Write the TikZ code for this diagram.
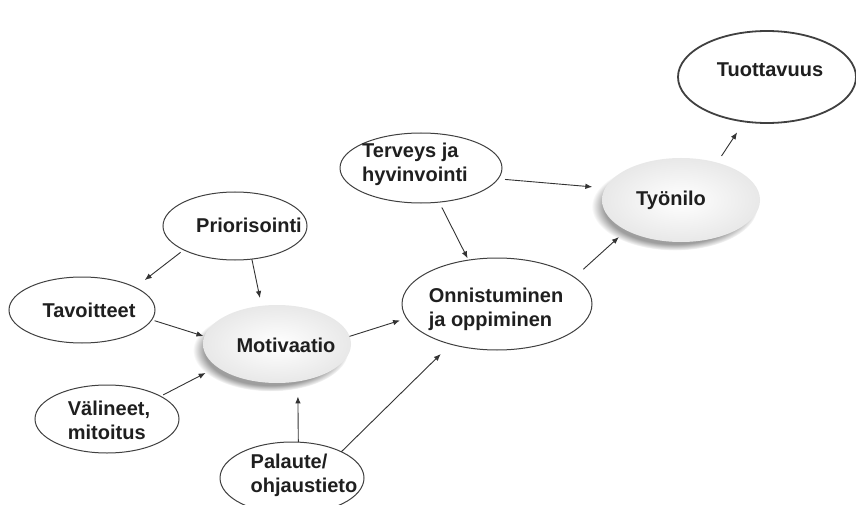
\documentclass[tikz,border=0pt]{standalone}
\usepackage{fontspec}
\setmainfont{Liberation Sans}
\usetikzlibrary{shapes.geometric,arrows.meta,shadows,fadings}

\tikzset{
  oval/.style={ellipse, draw=black!75, line width=1pt, fill=white, inner sep=0pt, outer sep=0pt},
  glow/.style={ellipse, inner sep=0pt, outer sep=0pt, inner color=white, outer color=black!9,
    circular drop shadow={shadow xshift=-6pt, shadow yshift=-6pt, shadow scale=1.05, fill=black!38}},
  word/.style={font=\fontsize{20}{24}\selectfont\bfseries, text=black!88, align=left, inner sep=0pt},
  link/.style={-{Latex[length=7pt,width=5.5pt]}, line width=0.9pt, draw=black!80}
}

\begin{document}
\begin{tikzpicture}[x=1pt, y=-1pt]

\clip (0,0) rectangle (856,505);
\fill[white] (0,0) rectangle (856,505);

% ovals
\node[oval, line width=1.8pt, minimum width=178pt, minimum height=92pt]	(tuot) at (767,77) {};
\node[glow, minimum width=158pt, minimum height=84pt]	(tyo) at (681,200) {};
\node[oval, minimum width=162pt, minimum height=70pt]	(terv) at (421,168) {};
\node[oval, minimum width=190pt, minimum height=92pt]	(onn) at (497,304) {};
\node[oval, minimum width=144pt, minimum height=68pt]	(prio) at (235,226) {};
\node[oval, minimum width=146pt, minimum height=66pt]	(tav) at (82,310) {};
\node[glow, minimum width=148pt, minimum height=78pt]	(moti) at (277,344) {};
\node[oval, minimum width=144pt, minimum height=68pt]	(val) at (107,419) {};
\node[oval, minimum width=144pt, minimum height=72pt]	(pal) at (292,478) {};

% texts
\node[word] (tuot-t) at (770,70) {Tuottavuus};
\node[word] (tyo-t) at (671,200) {Työnilo};
\node[word] (terv-t) at (415,164) {Terveys ja\\hyvinvointi};
\node[word] (onn-t) at (496,309) {Onnistuminen\\ja oppiminen};
\node[word] (prio-t) at (249,225) {Priorisointi};
\node[word] (tav-t) at (89,310) {Tavoitteet};
\node[word] (moti-t) at (286,345) {Motivaatio};
\node[word] (val-t) at (109,420) {Välineet,\\mitoitus};
\node[word] (pal-t) at (304,475) {Palaute/\\ohjaustieto};

\begin{scope}[link]
\draw[shorten <=4pt, shorten >=12pt] (prio.205) -- (tav.23);
\draw[shorten >=8pt] (prio.-63) -- (moti.112);
\draw[shorten <=3pt, shorten >=1pt] (tav.-8) -- (moti.174);
\draw[shorten <=3pt, shorten >=13pt] (val.23) -- (moti.201);
\draw[shorten >=15pt] (pal.80) -- (moti.-61);

\draw[shorten >=7pt] (moti.6) -- (onn.189);
\draw[shorten >=14pt] (pal.28) -- (onn.221);
\draw[shorten <=6pt, shorten >=2pt] (terv.-62) -- (onn.123);

\draw[shorten <=7pt, shorten >=13pt] (terv.-8) -- (tyo.171);
\draw[shorten <=12pt, shorten >=10pt] (onn.19) -- (tyo.209);
\draw[shorten <=8pt, shorten >=13pt] (tyo.46) -- (tuot.243);
\end{scope}

\end{tikzpicture}
\end{document}
